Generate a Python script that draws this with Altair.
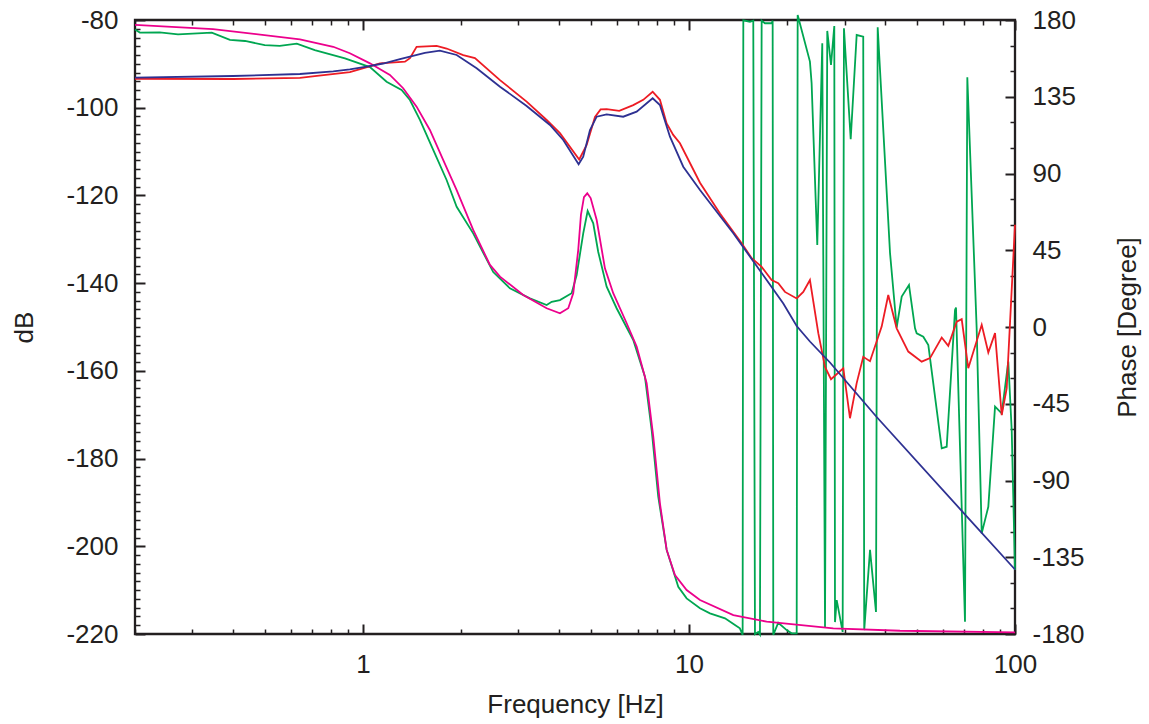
import altair as alt
import pandas as pd

# ---------------- data ----------------
# measured magnitude (red), dB
mag_meas_f = [0.2, 0.4, 0.641, 0.712, 0.912, 1.128, 1.346, 1.394, 1.461, 1.683, 1.806, 2.031, 2.206,
              2.633, 3.178, 3.661, 4.021, 4.607, 4.856, 5.150, 5.359, 5.592, 6.112, 6.748, 7.240,
              7.739, 8.147, 8.544, 8.949, 9.384, 10.81, 12.45, 14.51, 15.57, 16.71, 17.93, 18.79,
              19.70, 21.40, 22.42, 23.50, 24.93, 26.14, 27.27, 29.74, 31.18, 32.69, 34.24, 35.92,
              39.00, 40.86, 43.36, 47.06, 51.74, 54.87, 59.60, 62.43, 66.26, 68.63, 71.90, 79.05,
              82.82, 86.85, 91.04, 94.30, 100.0]
mag_meas_db = [-93.4, -93.45, -93.2, -92.8, -91.9, -89.9, -89.5, -88.7, -86.1, -85.9, -86.5, -88.0, -88.7,
               -93.7, -98.6, -102.8, -105.8, -111.8, -108.5, -102.1, -100.4, -100.3, -100.7, -99.4, -98.2,
               -96.35, -98.2, -103.6, -106.2, -108.1, -117.1, -124.1, -130.9, -134.3, -136.3, -139.3, -140.0,
               -142.0, -143.5, -142.0, -139.3, -151.4, -159.1, -161.9, -159.4, -170.8, -162.8, -156.8, -157.8,
               -149.9, -142.7, -150.3, -155.6, -157.9, -157.1, -152.4, -154.3, -148.8, -148.2, -159.4, -149.5,
               -155.8, -151.4, -170.1, -164.0, -126.7]

# model magnitude (navy), dB
mag_model_f = [0.2, 0.4, 0.641, 0.811, 0.912, 1.026, 1.154, 1.299, 1.394, 1.549, 1.722, 1.939, 2.233,
               2.633, 3.178, 3.747, 4.116, 4.588, 4.740, 4.971, 5.212, 5.592, 6.288, 6.912, 7.739,
               8.147, 8.745, 9.605, 10.81, 13.68, 17.31, 19.47, 21.40, 23.50, 27.07, 37.65, 69.41, 100.0]
mag_model_db = [-93.16, -92.77, -92.31, -91.70, -91.24, -90.64, -89.92, -88.9, -88.37, -87.52, -87.00, -87.98, -91.01,
                -95.21, -99.61, -103.94, -107.36, -112.90, -111.17, -105.08, -102.05, -101.50, -102.05, -100.91, -97.85,
                -99.38, -106.61, -113.45, -118.76, -128.64, -139.28, -144.64, -149.77, -153.31, -158.09, -170.52,
                -192.32, -205.29]

# measured phase (green), degree
ph_meas_f = [0.2, 0.207, 0.238, 0.271, 0.344, 0.391, 0.435, 0.500, 0.556, 0.627, 0.712, 0.881, 1.051,
             1.182, 1.314, 1.394, 1.496, 1.643, 1.806, 1.939, 2.179, 2.510, 2.824, 3.253, 3.661, 3.793,
             4.021, 4.367, 4.525, 4.740, 4.890, 5.087, 5.270, 5.592, 6.000, 6.748, 7.328, 7.685, 8.051,
             8.544, 9.273, 9.838, 10.81, 11.60, 12.90, 13.84, 14.33, 14.61, 14.68, 15.39, 15.75, 15.94,
             16.31, 16.51, 16.71, 17.10, 17.93, 18.06, 18.14, 18.79, 19.94, 20.65, 21.40, 21.55, 23.50,
             23.78, 24.75, 25.64, 26.14, 26.56, 27.27, 27.91, 28.05, 28.39, 29.61, 29.88, 31.34, 32.69,
             34.24, 34.48, 35.92, 37.47, 37.92, 41.37, 43.36, 44.93, 47.30, 49.36, 49.95, 52.33, 54.22,
             59.60, 61.73, 65.47, 65.92, 70.25, 71.41, 76.28, 79.05, 82.82, 86.85, 91.04, 95.37, 97.70, 100.0]
ph_meas_deg = [174.5, 172.6, 172.8, 171.6, 172.6, 168.3, 167.7, 165.3, 164.8, 166.1, 162.4, 157.5, 152.4,
               143.8, 139.0, 133.1, 121.4, 103.8, 86.2, 70.5, 54.9, 32.2, 22.7, 16.8, 12.9, 14.8,
               15.8, 19.8, 30.5, 54.9, 68.0, 60.8, 44.0, 23.6, 11.0, -7.6, -29.1, -60.4, -99.5,
               -130.7, -152.3, -159.1, -164.9, -167.9, -170.8, -174.7, -176.7, -180.5, 179.8, 179.0, 179.6, -180.0,
               -178.8, -180.3, 179.6, 178.1, 178.1, 179.6, -180.5, -173.4, -177.7, -179.6, -179.6, 182.9, 155.6,
               142.9, 48.1, 166.3, -175.9, 173.6, 153.6, 176.5, -173.0, -160.1, -178.8, 175.1, 110.1, 171.2,
               170.2, -177.7, -130.7, -167.1, 175.7, 43.4, -0.3, 17.8, 24.6, -0.8, -3.7, -5.7, -10.6,
               -71.1, -70.2, 10.0, 11.4, -172.8, 146.4, -0.8, -121.0, -105.4, -46.7, -50.6, -20.3, -60.4, -142.5]

# model phase (magenta), degree
ph_model_f = [0.2, 0.347, 0.641, 0.811, 0.912, 1.026, 1.051, 1.210, 1.329, 1.461, 1.605, 1.764, 1.939,
              2.179, 2.453, 2.633, 3.103, 3.661, 4.021, 4.264, 4.417, 4.575, 4.664, 4.764, 4.876, 4.995,
              5.212, 5.525, 5.858, 6.441, 6.912, 7.418, 7.773, 8.147, 8.544, 9.059, 9.838, 10.81, 13.68,
              17.31, 27.71, 44.38, 100.0]
ph_model_deg = [177.2, 174.7, 168.7, 164.3, 160.5, 155.6, 154.6, 147.8, 140.0, 129.2, 115.5, 97.9, 80.3,
                56.9, 36.4, 29.5, 18.8, 11.0, 8.0, 11.0, 19.8, 45.1, 65.7, 76.2, 78.4, 75.6,
                62.7, 34.4, 19.8, 2.2, -11.5, -33.0, -64.3, -103.4, -130.7, -145.4, -154.2, -160.1, -168.9,
                -172.8, -176.7, -178.1, -179.0]

# axis ticks
freq_major = [1, 10, 100]
freq_minor = [0.2, 0.3, 0.4, 0.5, 0.6, 0.7, 0.8, 0.9, 2, 3, 4, 5, 6, 7, 8, 9,
              20, 30, 40, 50, 60, 70, 80, 90]
db_major = [-220, -200, -180, -160, -140, -120, -100, -80]
db_minor = [v for v in range(-218, -80, 2) if v % 20 != 0]
deg_major = [-180, -135, -90, -45, 0, 45, 90, 135, 180]
deg_minor = [v for v in range(-165, 180, 15) if v % 45 != 0]

# ---------------- chart ----------------
FONT = "Liberation Sans"
INK = "#231f20"
MAJ, MIN = 10, 5
LW = 1.8


def frame(f, v):
    return pd.DataFrame({"f": f, "v": v, "i": list(range(len(f)))})


red = frame(mag_meas_f, mag_meas_db)
navy = frame(mag_model_f, mag_model_db)
green = frame(ph_meas_f, ph_meas_deg)
magenta = frame(ph_model_f, ph_model_deg)

xs = alt.Scale(type="log", domain=[0.2, 100], nice=False)
ys_mag = alt.Scale(domain=[-220, -80], nice=False, zero=False)
ys_ph = alt.Scale(domain=[-180, 180], nice=False, zero=False)


def tick_axis(orient, values, size, width):
    return alt.Axis(orient=orient, values=values, ticks=True, tickSize=size, tickWidth=width,
                    tickColor=INK, offset=-size, domain=False, labels=False, grid=False)


label_common = dict(ticks=False, tickSize=0, domain=False, grid=False, labelPadding=17,
                    labelFontSize=26, labelFont=FONT, labelColor=INK, labelOverlap=False,
                    labelFlush=False, labelExpr="'' + datum.value",
                    titleFontSize=26, titleFont=FONT, titleFontWeight="normal", titleColor=INK,
                    titleBaseline="alphabetic", titleAlign="center")

x_labels = alt.Axis(orient="bottom", values=freq_major, titleX=440, titleY=78, **label_common)
y_left_labels = alt.Axis(orient="left", values=db_major, titleX=-103, titleY=307, titleAngle=270,
                         **label_common)
y_right_labels = alt.Axis(orient="right", values=deg_major, titleX=120, titleY=307, titleAngle=270,
                          **label_common)


def line(df, color, yscale, xaxis, yaxis, ytitle=None, xtitle=None, opacity=1.0):
    return alt.Chart(df).mark_line(color=color, strokeWidth=LW, opacity=opacity).encode(
        x=alt.X("f:Q", scale=xs, axis=xaxis, title=xtitle),
        y=alt.Y("v:Q", scale=yscale, axis=yaxis, title=ytitle),
        order=alt.Order("i:Q"),
    )


l_green = line(green, "#00a651", ys_ph, tick_axis("bottom", freq_minor, MIN, 1.5), y_right_labels,
               ytitle="Phase [Degree]")
l_magenta = line(magenta, "#ec008c", ys_ph, tick_axis("top", freq_major, MAJ, 2),
                 tick_axis("right", deg_major, MAJ, 2))
l_red = line(red, "#ed1c24", ys_mag, x_labels, y_left_labels, ytitle="dB", xtitle="Frequency [Hz]")
l_navy = line(navy, "#2e3192", ys_mag, tick_axis("bottom", freq_major, MAJ, 2),
              tick_axis("left", db_major, MAJ, 2))
l_ghost1 = line(navy, "#2e3192", ys_mag, tick_axis("top", freq_minor, MIN, 1.5),
                tick_axis("left", db_minor, MIN, 1.5), opacity=0.0)
l_ghost2 = line(magenta, "#ec008c", ys_ph, None, tick_axis("right", deg_minor, MIN, 1.5), opacity=0.0)

chart = alt.layer(l_green, l_magenta, l_red, l_navy, l_ghost1, l_ghost2).resolve_scale(
    y="independent"
).resolve_axis(x="independent", y="independent").properties(
    width=880, height=614,
    autosize=alt.AutoSizeParams(type="none"),
    padding={"left": 135, "top": 20, "right": 134, "bottom": 90},
    background="white",
).configure_view(stroke=INK, strokeWidth=2.3)

chart.save("out.html", embed_options={"renderer": "svg", "actions": False})
